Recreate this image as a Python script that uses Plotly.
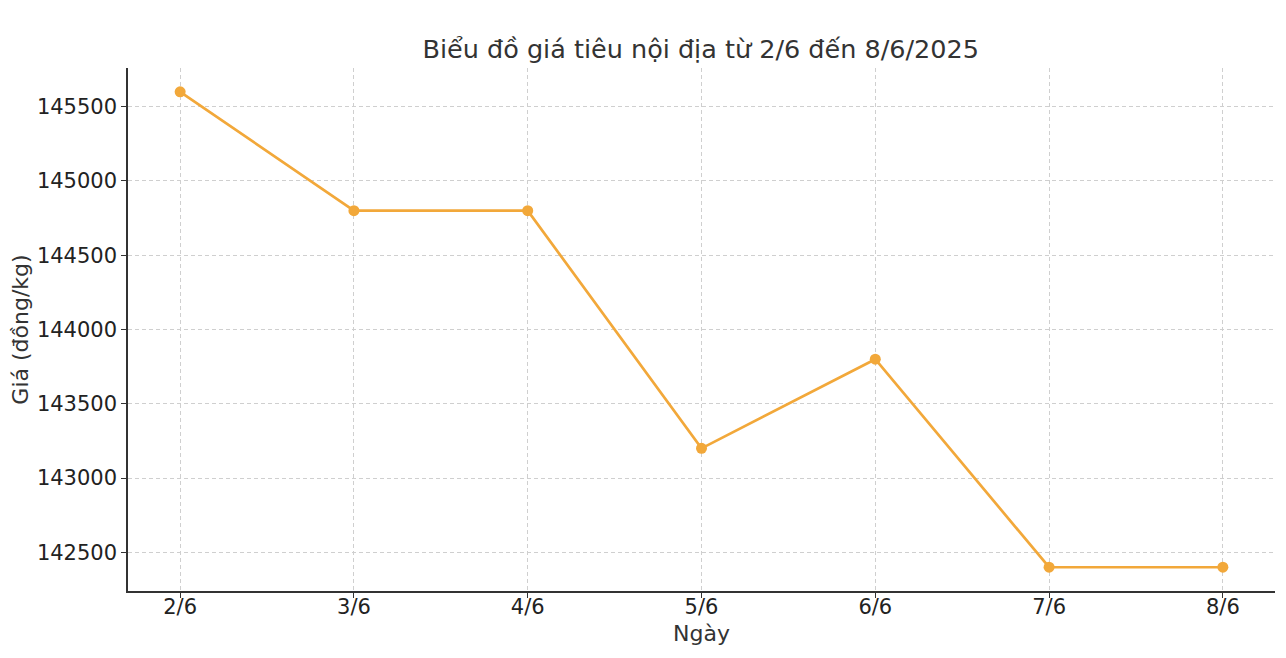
import plotly.graph_objects as go

# du lieu gia tieu noi dia
ngay = ['2/6', '3/6', '4/6', '5/6', '6/6', '7/6', '8/6']
gia = [145600, 144800, 144800, 143200, 143800, 142400, 142400]
y_ticks = [142500, 143000, 143500, 144000, 144500, 145000, 145500]

fig = go.Figure()
fig.add_trace(go.Scatter(
    x=ngay, y=gia, mode='lines+markers',
    line=dict(color='#F2A83A', width=2.7),
    marker=dict(color='#F2A83A', size=11),
    showlegend=False))

# trang html co le 8px nen bu tru vao margin
fig.update_layout(
    width=1286, height=658,
    margin=dict(l=120, r=19, t=60, b=75),
    paper_bgcolor='white', plot_bgcolor='white',
    font=dict(family='DejaVu Sans', size=21, color='#222222'),
    title=dict(text='Biểu đồ giá tiêu nội địa từ 2/6 đến 8/6/2025',
               x=0.5387, xanchor='center', y=0.937, yanchor='middle',
               font=dict(size=25.5, color='#333333')),
)
fig.update_xaxes(
    type='category', range=[-0.3, 6.3], automargin=False,
    title=dict(text='Ngày', font=dict(size=22, color='#333333'), standoff=8),
    showline=True, linecolor='#333333', linewidth=1.5, mirror=False,
    ticks='outside', ticklen=5, tickcolor='#333333', ticklabelstandoff=-9,
    showgrid=True, gridcolor='#cfcfcf', griddash='4px,3px', gridwidth=1,
    zeroline=False)
fig.update_yaxes(
    range=[142240, 145760], tickvals=y_ticks, automargin=False,
    ticktext=[str(v) for v in y_ticks],
    title=dict(text='Giá (đồng/kg)', font=dict(size=22, color='#333333'), standoff=10),
    showline=True, linecolor='#333333', linewidth=1.5, mirror=False,
    ticks='outside', ticklen=5, tickcolor='#333333',
    showgrid=True, gridcolor='#cfcfcf', griddash='4px,3px', gridwidth=1,
    zeroline=False)

fig.write_html("out.html")
